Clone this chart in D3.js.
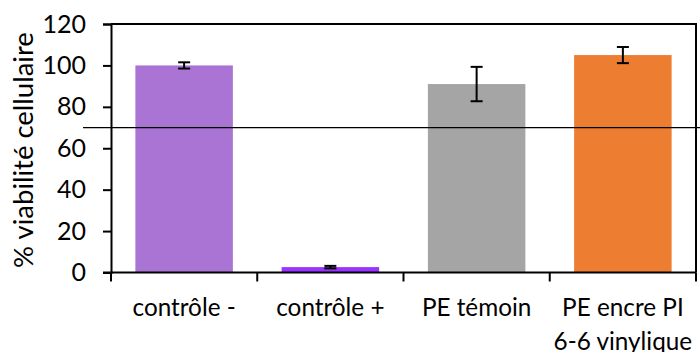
<!DOCTYPE html>
<html>
<head>
<meta charset="utf-8">
<script src="https://cdn.jsdelivr.net/npm/d3@7"></script>
<style>
  html, body { margin: 0; padding: 0; background: #fff; }
  svg { display: block; }
  text { font-family: Lato, "Open Sans", sans-serif; fill: #000; }
</style>
</head>
<body>
<svg id="chart" width="700" height="352"></svg>
<script>
// Cell viability per sample (%), with standard deviation
const categories = ["contrôle -", "contrôle +", "PE témoin", "PE encre PI\n6-6 vinylique"];
const viability = [100, 2.6, 91, 105];
const deviation = [1.5, 0.6, 8.3, 3.9];
const barColors = ["#A974D4", "#9933FF", "#A5A5A5", "#ED7D31"];
const yTicks = [0, 20, 40, 60, 80, 100, 120];
const threshold = 70;
const yTitle = "% viabilité cellulaire";

const svg = d3.select("#chart");
const plot = { left: 111, right: 696, top: 24, bottom: 272.5 };

const x = d3.scaleBand()
  .domain(categories)
  .range([plot.left, plot.right])
  .paddingInner(1 / 3)
  .paddingOuter(1 / 6);

const y = d3.scaleLinear()
  .domain([0, 120])
  .range([plot.bottom, plot.top]);

// Bars
svg.append("g").selectAll("rect")
  .data(categories)
  .join("rect")
  .attr("x", d => x(d))
  .attr("y", (d, i) => y(viability[i]))
  .attr("width", x.bandwidth())
  .attr("height", (d, i) => y(0) - y(viability[i]))
  .attr("fill", (d, i) => barColors[i]);

// Error bars
const err = svg.append("g").attr("stroke", "#000").attr("stroke-width", 2);
categories.forEach((c, i) => {
  const cx = x(c) + x.bandwidth() / 2;
  const hi = y(viability[i] + deviation[i]);
  const lo = y(viability[i] - deviation[i]);
  err.append("line").attr("x1", cx).attr("x2", cx).attr("y1", hi).attr("y2", lo);
  err.append("line").attr("x1", cx - 6).attr("x2", cx + 6).attr("y1", hi).attr("y2", hi);
  err.append("line").attr("x1", cx - 6).attr("x2", cx + 6).attr("y1", lo).attr("y2", lo);
});

// Plot frame (top and right)
svg.append("path")
  .attr("d", `M${plot.left},${plot.top}H${plot.right}V${plot.bottom}`)
  .attr("fill", "none").attr("stroke", "#000").attr("stroke-width", 2);

// Y axis
const yAxis = svg.append("g")
  .attr("transform", `translate(${plot.left},0)`)
  .call(d3.axisLeft(y).tickValues(yTicks).tickSize(8).tickPadding(17));
yAxis.select(".domain").attr("stroke-width", 2);
yAxis.selectAll(".tick line").attr("stroke-width", 2);
yAxis.selectAll(".tick text")
  .style("font-family", "Lato, 'Open Sans', sans-serif")
  .attr("font-size", 25);

// X axis: ticks at category boundaries
const boundaries = categories.map(c => x(c) - x.step() * x.paddingInner() / 2);
boundaries[0] = plot.left;
boundaries.push(plot.right);
const xAxisG = svg.append("g");
xAxisG.append("line")
  .attr("x1", plot.left - 8).attr("x2", plot.right)
  .attr("y1", plot.bottom).attr("y2", plot.bottom)
  .attr("stroke", "#000").attr("stroke-width", 2);
xAxisG.selectAll(".xt")
  .data(boundaries)
  .join("line")
  .attr("x1", d => d).attr("x2", d => d)
  .attr("y1", plot.bottom).attr("y2", plot.bottom + 9)
  .attr("stroke", "#000").attr("stroke-width", 2);

// Category labels
const labels = svg.append("g").selectAll("text")
  .data(categories)
  .join("text")
  .attr("x", d => x(d) + x.bandwidth() / 2)
  .attr("y", 316)
  .attr("text-anchor", "middle")
  .attr("font-size", 24.3);
labels.each(function (d) {
  const t = d3.select(this);
  d.split("\n").forEach((line, k) => {
    t.append("tspan")
      .attr("x", t.attr("x"))
      .attr("dy", k === 0 ? 0 : 34)
      .text(line);
  });
});

// Threshold line at 70 %
svg.append("line")
  .attr("x1", 83).attr("x2", 700)
  .attr("y1", y(threshold)).attr("y2", y(threshold))
  .attr("stroke", "#000").attr("stroke-width", 1.3);

// Y title
svg.append("text")
  .attr("transform", `translate(33,150) rotate(-90)`)
  .attr("text-anchor", "middle")
  .attr("font-size", 27.5)
  .text(yTitle);
</script>
</body>
</html>
